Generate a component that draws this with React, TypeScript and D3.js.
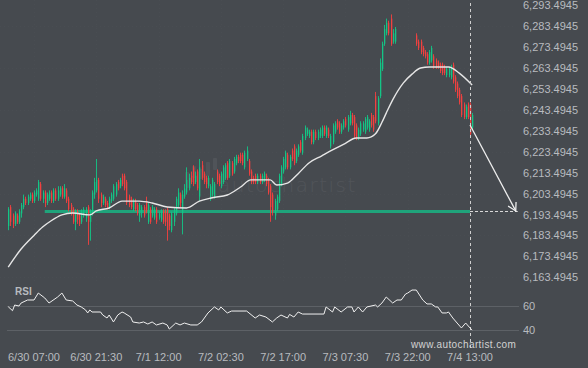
import React from 'react';
import * as d3 from 'd3';

const W = 588;
const H = 368;

const timeLabels = ['6/30 07:00', '6/30 21:30', '7/1 12:00', '7/2 02:30', '7/2 17:00', '7/3 07:30', '7/3 22:00', '7/4 13:00'];
const timeLabelIdx = [12, 41, 70, 99, 128, 157, 186, 215];
const priceTicks = [6293.4945, 6283.4945, 6273.4945, 6263.4945, 6253.4945, 6243.4945, 6233.4945, 6223.4945, 6213.4945, 6203.4945, 6193.4945, 6183.4945, 6173.4945, 6163.4945];
const rsiTicks = [60, 40];

const N = null;
const candleOpen = [
  6188,6197,6193,6189,6193,6190,6194,6197,6201,6199,
  6201,6203,6200,6203,6201,6208,6201,6204,6199,6201,
  6204,6200,6205,6201,6203,6206,6202,6205,6201,6198,
  6196,6190,6195,6193,6190,6193,6192,6197,6190,6194,
  6203,6205,6210,6203,6199,6201,6199,6197,6200,6201,
  6203,6209,6207,6212,6212,6209,6202,6201,6196,6200,
  6198,6193,6194,6197,6200,6190,6196,6193,6192,6196,
  6192,6191,6195,6195,6196,6193,6186,6190,6194,6198,
  6203,6194,6202,6204,6206,6212,6216,6209,6214,6202,
  6217,6213,6211,6207,6201,6203,6202,6214,6212,6207,
  6209,6211,6218,6212,6218,6214,6218,6221,6222,6222,
  6216,6220,6219,6214,6211,6212,6209,6212,6209,6210,
  6212,6210,6207,6203,6193,6196,6200,6208,6214,6216,
  6222,6216,6224,6226,6219,6222,6228,6223,6230,6232,
  6231,6233,6228,6233,6230,6231,6231,6235,6231,6234,
  6226,6228,6233,6238,6237,6233,6235,6239,6234,6237,
  6241,6240,6236,6230,6232,6234,6233,6235,6234,6241,
  6240,6250,6237,6250,6263,6275,6280,6285,6287,6276,
  6276,N,N,N,N,N,N,N,N,N,
  6279,6276,6276,6273,6271,6270,6266,6267,6269,6267,
  6266,6265,6265,6264,6260,6260,6259,6265,6259,6256,
  6253,6250,6246,6240,6246,6246,6235,
];
const candleHigh = [
  6197,6198,6194,6195,6194,6196,6199,6203,6202,6203,
  6204,6204,6205,6206,6210,6209,6205,6205,6204,6205,
  6205,6206,6206,6207,6207,6207,6208,6206,6202,6199,
  6197,6196,6196,6194,6196,6197,6197,6198,6196,6205,
  6211,6220,6211,6204,6203,6202,6200,6202,6204,6208,
  6209,6210,6211,6213,6213,6210,6203,6202,6201,6201,
  6199,6199,6198,6198,6202,6199,6197,6198,6197,6197,
  6195,6196,6196,6196,6197,6194,6195,6197,6202,6206,
  6204,6205,6208,6216,6213,6214,6217,6214,6215,6220,
  6219,6214,6212,6212,6208,6211,6209,6215,6213,6214,
  6217,6218,6219,6220,6219,6221,6222,6222,6223,6223,
  6224,6226,6220,6215,6212,6213,6213,6213,6213,6214,
  6213,6211,6208,6204,6201,6203,6213,6217,6221,6224,
  6223,6222,6225,6227,6225,6227,6229,6232,6236,6235,
  6234,6234,6234,6234,6234,6235,6236,6236,6236,6235,
  6232,6237,6238,6239,6238,6237,6239,6240,6241,6243,
  6242,6241,6237,6235,6238,6238,6240,6241,6239,6242,
  6241,6252,6250,6268,6276,6284,6287,6286,6289,6282,
  6283,N,N,N,N,N,N,N,N,N,
  6280,6277,6277,6274,6272,6271,6272,6274,6270,6268,
  6267,6266,6266,6265,6264,6264,6265,6266,6260,6257,
  6254,6251,6247,6246,6247,6247,6242,
];
const candleLow = [
  6186,6188,6187,6188,6189,6189,6192,6196,6198,6198,
  6200,6199,6199,6202,6200,6200,6199,6197,6198,6200,
  6199,6199,6200,6200,6202,6201,6201,6199,6195,6193,
  6189,6186,6189,6188,6189,6192,6190,6179,6181,6193,
  6201,6204,6199,6197,6198,6197,6196,6196,6199,6200,
  6202,6205,6206,6207,6205,6198,6197,6196,6195,6195,
  6193,6190,6192,6192,6194,6189,6189,6192,6191,6189,
  6191,6190,6189,6188,6181,6186,6185,6188,6193,6197,
  6197,6184,6201,6203,6205,6208,6207,6208,6205,6200,
  6210,6208,6206,6206,6200,6202,6201,6208,6207,6206,
  6208,6210,6210,6211,6212,6213,6217,6218,6218,6217,
  6215,6219,6212,6208,6208,6208,6208,6208,6208,6209,
  6207,6203,6190,6193,6191,6195,6199,6207,6213,6215,
  6215,6215,6219,6217,6218,6221,6223,6222,6229,6231,
  6230,6227,6227,6229,6229,6230,6230,6231,6230,6230,
  6225,6227,6232,6234,6232,6232,6234,6235,6233,6236,
  6236,6230,6229,6229,6231,6233,6232,6234,6233,6235,
  6233,6237,6236,6249,6262,6274,6279,6279,6274,6275,
  6275,N,N,N,N,N,N,N,N,N,
  6274,6272,6270,6269,6268,6265,6265,6266,6263,6263,
  6263,6261,6260,6260,6259,6259,6258,6256,6252,6249,
  6246,6240,6239,6239,6239,6231,6234,
];
const candleClose = [
  6196,6190,6189,6194,6190,6195,6198,6201,6199,6202,
  6203,6200,6204,6205,6209,6201,6204,6199,6203,6204,
  6200,6205,6201,6205,6206,6202,6206,6200,6196,6194,
  6190,6194,6191,6189,6195,6196,6196,6190,6195,6204,
  6209,6210,6201,6199,6202,6198,6197,6201,6203,6207,
  6208,6206,6210,6208,6206,6199,6198,6197,6200,6196,
  6194,6198,6197,6193,6195,6198,6190,6197,6196,6190,
  6194,6195,6190,6190,6186,6188,6194,6196,6201,6204,
  6199,6203,6206,6210,6211,6209,6208,6212,6206,6216,
  6211,6209,6208,6211,6207,6210,6208,6209,6208,6213,
  6216,6217,6211,6219,6213,6220,6221,6219,6219,6218,
  6223,6224,6213,6209,6209,6209,6212,6209,6212,6213,
  6208,6204,6197,6195,6200,6202,6212,6216,6220,6223,
  6216,6221,6220,6218,6224,6226,6224,6231,6235,6234,
  6233,6228,6233,6230,6233,6234,6235,6232,6235,6231,
  6231,6236,6237,6235,6233,6236,6238,6236,6240,6241,
  6237,6231,6230,6234,6237,6237,6239,6240,6238,6236,
  6234,6238,6249,6266,6275,6282,6285,6280,6275,6280,
  6282,N,N,N,N,N,N,N,N,N,
  6275,6273,6271,6270,6269,6266,6271,6273,6264,6264,
  6264,6262,6261,6261,6263,6263,6264,6257,6253,6250,
  6247,6241,6240,6245,6240,6232,6241,
];

const maIdx = [0, 6, 12, 16, 20, 25, 30, 38, 41, 47, 53, 61, 67, 74, 83, 89, 95, 102, 108, 113, 122, 125, 130, 135, 140, 146, 151, 157, 162, 167, 171, 174, 176, 179, 184, 188, 192, 196, 205, 210, 216];
const maVal = [6168.4, 6177, 6183.5, 6187.5, 6190.5, 6193.3, 6194.2, 6193.3, 6195.2, 6196.6, 6199.9, 6199.9, 6199.0, 6197.1, 6196.6, 6199.9, 6201.5, 6202.8, 6206.5, 6210.0, 6210.0, 6207.6, 6208.5, 6213, 6218.1, 6221.5, 6224.3, 6227.5, 6230.0, 6230.0, 6232.0, 6237.5, 6241.9, 6248.2, 6256.3, 6260.5, 6263.4, 6263.9, 6263.9, 6261.0, 6255.3];

const rsiIdx = [0, 2, 3, 5, 6, 9, 12, 14, 17, 19, 23, 25, 27, 30, 32, 34, 36, 37, 38, 39, 43, 44, 46, 47, 49, 51, 53, 54, 57, 58, 61, 63, 65, 67, 69, 72, 74, 75, 78, 80, 82, 85, 88, 90, 93, 96, 98, 99, 102, 104, 111, 115, 117, 120, 123, 125, 127, 130, 131, 133, 135, 137, 147, 148, 151, 152, 155, 158, 160, 161, 163, 165, 167, 171, 172, 174, 176, 179, 181, 183, 185, 186, 188, 190, 193, 195, 197, 199, 200, 202, 204, 205, 207, 209, 211, 213, 215, 216];
const rsiVal = [59.4, 56.1, 60.8, 60, 62.5, 65, 65, 70.8, 66.7, 62.5, 67.5, 70.8, 65, 64.2, 60.8, 59.2, 56.7, 54.2, 56.7, 55, 55, 52.5, 50, 52.5, 46.7, 52.5, 55, 54.2, 50.8, 46.7, 45.8, 46.7, 45, 46.7, 44.2, 45.8, 44.2, 40.8, 45.8, 44.2, 45.8, 44.2, 44.2, 46.7, 54.2, 59.2, 56.7, 59.2, 54.2, 55.8, 55.8, 50, 52.5, 50.8, 46.7, 50, 52.5, 50, 53, 50.8, 55, 53.3, 53.3, 59.2, 55, 59.2, 55, 59.2, 59.2, 55, 59.2, 55, 59.2, 60.8, 59.2, 62.5, 67.5, 62.5, 65, 65, 70, 70.8, 73.3, 73.3, 65, 61.7, 61.7, 59.2, 59.2, 54.2, 54.2, 55, 50, 45.8, 41.7, 45.8, 41.7, 40];

const supportLevel = 6195.2;
const supportStartIdx = 17;
const currentIdx = 215;
const forecastStart = { idx: 215, price: 6236.2 };
const forecastEnd = { idx: 236.3, price: 6195.2 };

const FONT = '"Liberation Sans", Arial, Helvetica, sans-serif';
const BG = '#464a4f';
const GREEN = '#14c586';
const RED = '#f2413f';
const TEXT = '#b8bbbf';

export default function App() {
  const x = d3.scaleLinear().domain([12, 215]).range([34, 470]);
  const y = d3.scaleLinear().domain([6163.4945, 6293.4945]).range([277.35, 5]);
  const yr = d3.scaleLinear().domain([40, 60]).range([330, 306]);

  const maLine = d3.line<number>()
    .x((_, i) => x(maIdx[i]))
    .y((d) => y(d))
    .curve(d3.curveMonotoneX);
  const rsiLine = d3.line<number>()
    .x((_, i) => x(rsiIdx[i]))
    .y((d) => yr(d));

  const candles = candleOpen.map((o, i) => ({ i, o, h: candleHigh[i], l: candleLow[i], c: candleClose[i] })).filter((d) => d.o !== null);

  const curX = Math.round(x(currentIdx)) + 0.5;
  const sY = Math.round(y(supportLevel));
  const fx1 = x(forecastStart.idx), fy1 = y(forecastStart.price);
  const fx2 = x(forecastEnd.idx), fy2 = y(forecastEnd.price);
  const ang = Math.atan2(fy2 - fy1, fx2 - fx1);
  const ah = 9;
  const a1 = [fx2 - ah * Math.cos(ang - Math.PI / 6), fy2 - ah * Math.sin(ang - Math.PI / 6)];
  const a2 = [fx2 - ah * Math.cos(ang + Math.PI / 6), fy2 - ah * Math.sin(ang + Math.PI / 6)];

  const fmt = d3.format(',.4f');

  return (
    <svg width={W} height={H} style={{ position: 'fixed', left: 0, top: 0, display: 'block' }} fontFamily={FONT}>
      <rect x={0} y={0} width={W} height={H} fill={BG} />
      {/* faint grid */}
      {timeLabelIdx.map((t, k) => (
        <line key={'gv' + k} x1={Math.round(x(t)) + 0.5} x2={Math.round(x(t)) + 0.5} y1={0} y2={282} stroke="#494d52" strokeDasharray="1 3" />
      ))}
      {priceTicks.filter((_, k) => k % 2 === 1).map((p, k) => (
        <line key={'gh' + k} x1={0} x2={515} y1={Math.round(y(p)) + 0.5} y2={Math.round(y(p)) + 0.5} stroke="#494d52" strokeDasharray="1 3" />
      ))}

      {/* watermark */}
      <g fill="#ffffff" opacity={0.055}>
        <rect x={185} y={172} width={4} height={16} rx={1} />
        <rect x={192} y={166} width={4} height={12} rx={1} />
        <rect x={199} y={169} width={4} height={10} rx={1} />
        <rect x={206} y={162} width={4} height={14} rx={1} />
        <rect x={213} y={158} width={4} height={12} rx={1} />
        <text x={218} y={192} fontSize={20} letterSpacing={1.5} fontFamily={'"DejaVu Sans", sans-serif'} fontWeight={300}>autochartist</text>
      </g>

      {/* support line */}
      <line x1={x(supportStartIdx)} x2={x(currentIdx)} y1={sY + 0.5} y2={sY + 0.5} stroke="#1fa47b" strokeWidth={3} />
      <line x1={x(currentIdx)} x2={fx2 + 2} y1={sY + 0.5} y2={sY + 0.5} stroke="#d8d8d8" strokeWidth={1} strokeDasharray="3 2" />

      {/* candles */}
      {candles.map((d) => {
        const cx = Math.round(x(d.i));
        const up = (d.c as number) >= (d.o as number);
        const col = up ? GREEN : RED;
        const top = y(Math.max(d.o as number, d.c as number));
        const bot = y(Math.min(d.o as number, d.c as number));
        return (
          <g key={d.i}>
            <line x1={cx + 0.5} x2={cx + 0.5} y1={y(d.h as number)} y2={y(d.l as number)} stroke={col} strokeWidth={1} opacity={0.9} />
            <rect x={cx} y={top} width={1.3} height={Math.max(1, bot - top)} fill={col} />
          </g>
        );
      })}

      {/* moving average */}
      <path d={maLine(maVal) || ''} fill="none" stroke="#e6e6e6" strokeWidth={1.4} />

      {/* current time dashed line */}
      <line x1={curX} x2={curX} y1={3} y2={350} stroke="#cfcfcf" strokeWidth={1} strokeDasharray="3 3" />

      {/* forecast arrow */}
      <line x1={fx1} y1={fy1} x2={fx2} y2={fy2} stroke="#eeeeee" strokeWidth={1.3} />
      <polyline points={`${a1[0]},${a1[1]} ${fx2},${fy2} ${a2[0]},${a2[1]}`} fill="none" stroke="#eeeeee" strokeWidth={1.3} />

      {/* price axis labels */}
      {priceTicks.map((p) => (
        <text key={p} x={523} y={y(p) + 4} fontSize={11} fill={TEXT}>{fmt(p)}</text>
      ))}

      {/* RSI panel */}
      {rsiTicks.map((r) => (
        <g key={r}>
          <line x1={7} x2={519} y1={Math.round(yr(r)) + 0.5} y2={Math.round(yr(r)) + 0.5} stroke="#5d6166" strokeWidth={1} />
          <text x={523} y={yr(r) + 4} fontSize={11} fill={TEXT}>{r}</text>
        </g>
      ))}
      <text x={15} y={295} fontSize={10} fontWeight="bold" fill={TEXT}>RSI</text>
      <path d={rsiLine(rsiVal) || ''} fill="none" stroke="#f0f0f0" strokeWidth={1} />

      {/* time labels */}
      {timeLabels.map((t, k) => (
        <text key={t} x={x(timeLabelIdx[k])} y={361} fontSize={11} fill={TEXT} textAnchor="middle">{t}</text>
      ))}

      <text x={411} y={348} fontSize={10} letterSpacing={0.4} fill="#d2d2d2">www.autochartist.com</text>
    </svg>
  );
}
